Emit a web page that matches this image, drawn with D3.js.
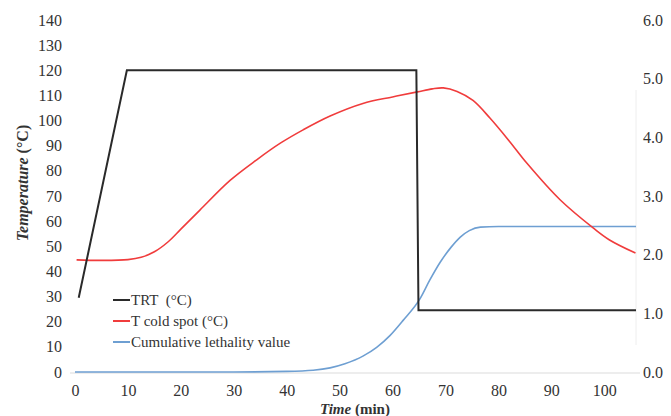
<!DOCTYPE html>
<html><head><meta charset="utf-8">
<script src="https://cdn.jsdelivr.net/npm/d3@7"></script>
<style>body{margin:0;background:#fff}svg{display:block}text{font-family:"Liberation Serif","Times New Roman",serif;fill:#333}</style>
</head><body><svg id="c" width="671" height="416"></svg>
<script>
// Data
const trtTime = [0.7, 9.8, 64.5, 64.9, 106];
const trtTemp = [29.5, 120, 120, 24.6, 24.6];
const coldTime = [0.3, 5, 10, 12.5, 15, 17.5, 20, 23.6, 29.3, 34.4, 38.8, 43.1, 48.2, 54.4, 60, 64.7, 67.5, 69.6, 72.2, 75.2, 78.4, 82, 85.4, 91.7, 97.9, 101, 105.9];
const coldTemp = [44.6, 44.4, 44.7, 45.6, 47.8, 51.6, 56.8, 64.4, 76.2, 84.5, 91, 96.3, 101.8, 106.8, 109.4, 111.4, 112.6, 113, 111.6, 108, 101, 92, 83, 68.4, 57.3, 52.5, 47.3];
const lethTime = [0, 10, 20, 30, 40, 45, 48.2, 51, 54.4, 57, 59.5, 62, 65.2, 67, 69, 71, 72.8, 74.5, 76.6, 80, 90, 106];
const lethVal = [0, 0, 0, 0, 0.01, 0.03, 0.07, 0.14, 0.27, 0.42, 0.62, 0.88, 1.25, 1.56, 1.87, 2.12, 2.30, 2.41, 2.47, 2.48, 2.48, 2.48];
const xTicks = [0, 10, 20, 30, 40, 50, 60, 70, 80, 90, 100];
const yLeftTicks = [0, 10, 20, 30, 40, 50, 60, 70, 80, 90, 100, 110, 120, 130, 140];
const yRightTicks = [0, 1, 2, 3, 4, 5, 6];
const seriesNames = ["TRT  (°C)", "T cold spot (°C)", "Cumulative lethality value"];
const seriesColors = ["#2a2a2a", "#f03c3c", "#6e9fd2"];

const svg = d3.select("#c");
const x = d3.scaleLinear().domain([0, 106]).range([75, 636]);
const yL = d3.scaleLinear().domain([0, 140]).range([372, 20]);
const yR = d3.scaleLinear().domain([0, 6]).range([372, 20]);
const FONT = '"Liberation Serif","Times New Roman",serif';

// baseline
svg.append("line").attr("x1", 70).attr("x2", 640).attr("y1", yL(0) + 1).attr("y2", yL(0) + 1)
  .attr("stroke", "#dcdcdc").attr("stroke-width", 1.2);
svg.append("line").attr("x1", x(106)).attr("x2", x(106)).attr("y1", 90).attr("y2", 345)
  .attr("stroke", "#eeeeee").attr("stroke-width", 1);

// axes (text only)
const gx = svg.append("g").attr("transform", "translate(0,380)")
  .call(d3.axisBottom(x).tickValues(xTicks).tickSize(0).tickPadding(5).tickFormat(d3.format("d")));
const gl = svg.append("g").attr("transform", "translate(66,0)")
  .call(d3.axisLeft(yL).tickValues(yLeftTicks).tickSize(0).tickPadding(4).tickFormat(d3.format("d")));
const gr = svg.append("g").attr("transform", "translate(641,0)")
  .call(d3.axisRight(yR).tickValues(yRightTicks).tickSize(0).tickPadding(2).tickFormat(d3.format(".1f")));
[gx, gl, gr].forEach(g => {
  g.attr("font-family", FONT);
  g.select(".domain").remove();
  g.selectAll("text").attr("font-family", FONT).style("font-family", FONT).style("font-size", "16px").attr("fill", "#333");
});

// lines
const trt = trtTime.map((t, i) => [t, trtTemp[i]]);
const cold = coldTime.map((t, i) => [t, coldTemp[i]]);
const leth = lethTime.map((t, i) => [t, lethVal[i]]);
svg.append("path").datum(leth).attr("fill", "none").attr("stroke", seriesColors[2]).attr("stroke-width", 1.6)
  .attr("d", d3.line().x(d => x(d[0])).y(d => yR(d[1])).curve(d3.curveMonotoneX));
svg.append("path").datum(cold).attr("fill", "none").attr("stroke", seriesColors[1]).attr("stroke-width", 1.6)
  .attr("d", d3.line().x(d => x(d[0])).y(d => yL(d[1])).curve(d3.curveCatmullRom.alpha(0.5)));
svg.append("path").datum(trt).attr("fill", "none").attr("stroke", seriesColors[0]).attr("stroke-width", 2)
  .attr("d", d3.line().x(d => x(d[0])).y(d => yL(d[1])));

// legend
const lg = svg.append("g");
seriesNames.forEach((n, i) => {
  const yy = 300 + i * 21;
  lg.append("line").attr("x1", 113).attr("x2", 130).attr("y1", yy).attr("y2", yy)
    .attr("stroke", seriesColors[i]).attr("stroke-width", 2);
  lg.append("text").attr("x", 131).attr("y", yy + 5).style("font-size", "15px").attr("xml:space", "preserve").text(n);
});

// axis titles
const tx = svg.append("text").attr("x", 355).attr("y", 414).attr("text-anchor", "middle").style("font-size", "15px").style("font-weight", "bold");
tx.append("tspan").style("font-style", "italic").text("Time");
tx.append("tspan").text(" (min)");
const ty = svg.append("text").attr("transform", "translate(28,183) rotate(-90)").attr("text-anchor", "middle").style("font-size", "16px").style("font-weight", "bold");
ty.append("tspan").style("font-style", "italic").text("Temperature");
ty.append("tspan").text(" (°C)");
</script></body></html>
